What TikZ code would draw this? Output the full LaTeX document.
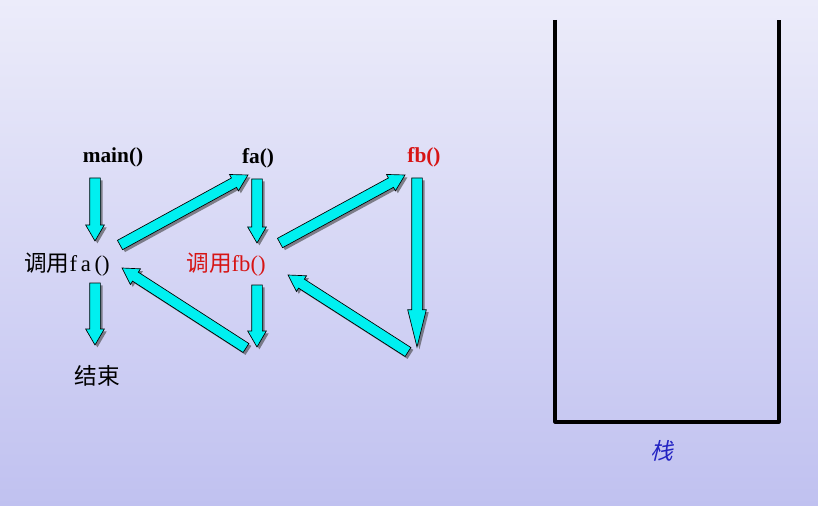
\documentclass[tikz,border=0pt]{standalone}
\usepackage{fontspec}
\setmainfont{Liberation Serif}
\newfontfamily\cjk{Noto Sans CJK SC}
\newfontfamily\cjkslant[FakeSlant=0.25]{Noto Sans CJK SC}
\usepackage{xcolor}
\usepackage{tikz}
\usetikzlibrary{positioning,calc,shadows}

\definecolor{bgtop}{RGB}{236,236,250}
\definecolor{bgbot}{RGB}{192,193,240}
\definecolor{arrcyan}{RGB}{0,240,240}
\definecolor{callred}{RGB}{215,20,20}
\definecolor{stackblue}{RGB}{35,35,195}

\tikzset{
	fname/.style={font=\fontsize{16}{18}\selectfont\bfseries, inner sep=1pt},
	call/.style={font=\fontsize{17}{20}\selectfont, inner sep=1pt},
	blockarr/.style={fill=arrcyan, draw=black, line width=0.5pt, line join=miter,
		drop shadow={shadow xshift=1.8pt, shadow yshift=-1.8pt, opacity=0.6, fill=black!75}},
}

% block arrow: [head length]{start}{end}
\newcommand{\blockarrow}[3][12pt]{%
	\path (#2) coordinate (ba-s) (#3) coordinate (ba-e);
	\coordinate (ba-n) at ($(ba-e)!#1!(ba-s)$);
	\filldraw[blockarr] ($(ba-s)!4pt!90:(ba-e)$) -- ($(ba-n)!4pt!90:(ba-e)$)
		-- ($(ba-n)!7pt!90:(ba-e)$) -- (ba-e) -- ($(ba-n)!7pt!-90:(ba-e)$)
		-- ($(ba-n)!4pt!-90:(ba-e)$) -- ($(ba-s)!4pt!-90:(ba-e)$) -- cycle;
}

\begin{document}
\begin{tikzpicture}[x=0.75pt,y=-0.75pt]
	\shade[top color=bgtop, bottom color=bgbot] (0,0) rectangle (818,506);
	\useasboundingbox (0,0) rectangle (818,506);

	% functions
	\node[fname] (main) at (113,157) {main()};
	\node[fname] (fa) at (258,158) {fa()};
	\node[fname, text=callred] (fb) at (424,157) {fb()};
	\node[call] (callfa) at (67,265) {{\cjk 调用}f\,a\,()};
	\node[call, text=callred] (callfb) at (226,265) {{\cjk 调用}fb()};
	\node[call] (end) at (97,376) {\cjk 结束};

	\coordinate (faret) at (252,350);
	\coordinate (fbret) at (417,347);

	% calls and returns
	\blockarrow{$(main)+(-18,21)$}{$(callfa)+(28,-24)$}
	\blockarrow{$(callfa)+(53,-20)$}{$(fa)+(-10,17)$}
	\blockarrow{$(fa)+(-1,21)$}{$(callfb)+(31,-22)$}
	\blockarrow{$(callfa)+(28,18)$}{$(end)+(-2,-31)$}
	\blockarrow{$(callfb)+(54,-22)$}{$(fb)+(-19,18)$}
	\blockarrow[28pt]{$(fb)+(-7,21)$}{fbret}
	\blockarrow{$(callfb)+(31,20)$}{$(faret)+(5,-3)$}
	\blockarrow{$(faret)+(-6,-2)$}{$(callfa)+(55,3)$}
	\blockarrow{$(fbret)+(-9,5)$}{$(callfb)+(62,10)$}

	% stack
	\coordinate (stl) at (555,20);
	\coordinate (str) at (779,20);
	\draw[line width=2.4pt, line join=round] (stl) -- (stl |- 0,422) -- (str |- 0,422) -- (str);
	\node[font=\fontsize{17}{19}\cjkslant, text=stackblue] (stack) at (662,451) {栈};
\end{tikzpicture}
\end{document}
